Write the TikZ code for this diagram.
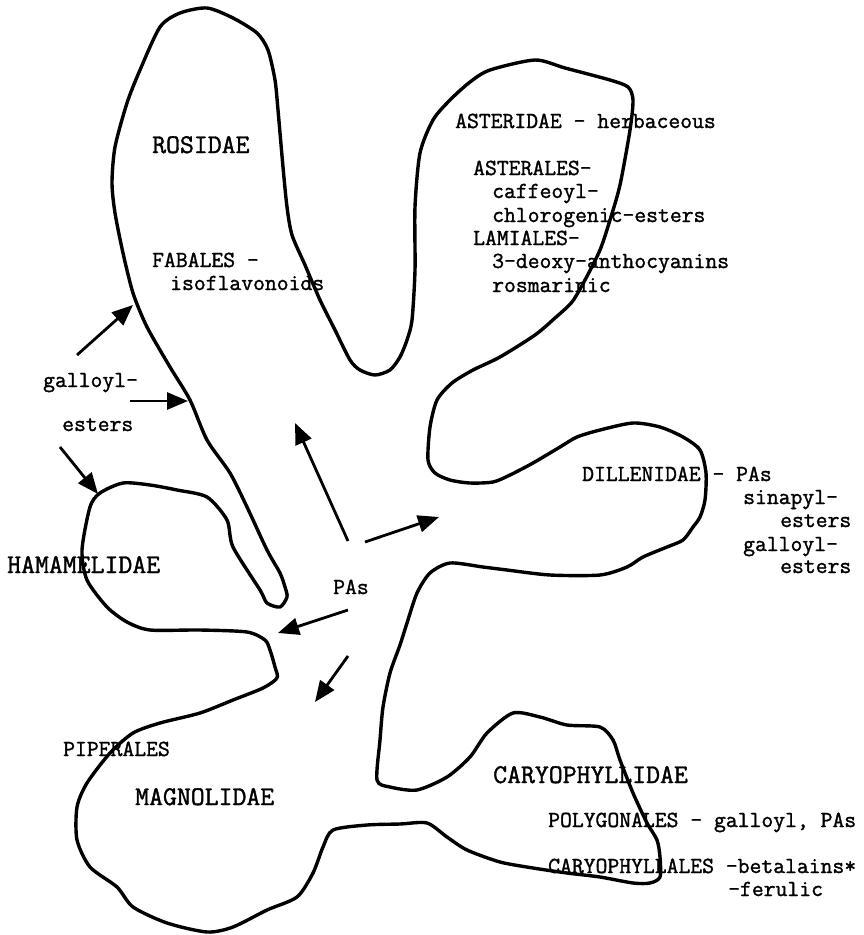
\documentclass[tikz,border=0pt]{standalone}
\usepackage{fontspec}
\newfontfamily\tw{lmmono12-regular.otf}[FakeBold=1.4]
\usetikzlibrary{arrows.meta}

\begin{document}
\begin{tikzpicture}[x=1pt, y=-1pt, >={Triangle[length=21pt,width=17pt]},
    lbl/.style={anchor=base west,inner sep=0pt,font=\fontsize{23}{23}\selectfont\tw},
    big/.style={anchor=base west,inner sep=0pt,font=\fontsize{27}{27}\selectfont\tw},
    arr/.style={draw=black,line width=2.8pt,->},
    blob/.style={draw=black,line width=3.4pt,line join=round}]
    \useasboundingbox (0,0) rectangle (864,935);
    % outline of the subclasses
    \draw[blob] plot[smooth cycle,tension=0.45] coordinates {
      (207,8) (233,18) (257,33) (268,50) (275,80) (278,110) (283,167) (287,207) (292,235) (305,265)
      (320,300) (335,330) (350,360) (360,370) (375,375) (390,370) (400,357) (407,340) (412,320) (415,270)
      (415,207) (420,153) (433,120) (450,100) (470,82) (490,70) (535,60) (565,68) (610,80) (628,87)
      (633,100) (630,130) (620,185) (610,220) (600,250) (585,280) (572,302) (555,318) (535,335) (500,357)
      (473,370) (452,383) (437,400) (430,427) (428,460) (435,473) (450,480) (470,483) (493,482) (510,475)
      (533,463) (560,447) (577,437) (600,430) (633,423) (660,427) (683,437) (700,450) (706,473) (705,500)
      (700,517) (693,527) (683,540) (667,547) (643,557) (627,567) (600,575) (550,575) (507,570) (483,567)
      (450,563) (430,573) (417,593) (407,623) (400,645) (390,673) (383,707) (380,740) (377,780) (390,787)
      (417,790) (447,777) (470,757) (487,733) (513,713) (540,717) (567,725) (600,727) (613,740) (620,760)
      (633,793) (647,823) (657,840) (660,857) (660,877) (650,883) (633,883) (600,877) (567,873) (533,868)
      (500,862) (467,850) (447,837) (427,823) (400,824) (367,825) (333,830) (323,847) (313,873) (297,897)
      (267,910) (233,927) (207,932) (167,923) (133,907) (117,887) (90,867) (77,840) (77,807) (87,783)
      (110,753) (133,733) (160,723) (200,713) (233,700) (263,688) (277,678) (275,667) (270,650) (265,640)
      (247,632) (200,630) (150,630) (127,622) (107,607) (87,580) (82,550) (90,507) (100,493) (123,483)
      (150,485) (177,490) (207,497) (227,520) (233,547) (260,590) (267,603) (280,607) (287,597) (285,587)
      (280,573) (267,550) (247,507) (230,473) (207,440) (190,400) (170,367) (147,327) (133,293) (123,253)
      (115,213) (112,183) (115,147) (127,103) (140,70) (160,27) (180,13)};

    % Rosidae
    \node[big] (ros) at (152,153) {ROSIDAE};
    \node[lbl] (fab) at (152,267) {FABALES -};
    \node[lbl] (iso) at (170,290) {isoflavonoids};
    % Asteridae
    \node[lbl] (ast) at (455,128) {ASTERIDAE - herbaceous};
    \node[lbl] (astl) at (473,175) {ASTERALES-};
    \node[lbl] (caf) at (492,198) {caffeoyl-};
    \node[lbl] (chl) at (492,222) {chlorogenic-esters};
    \node[lbl] (lam) at (473,245) {LAMIALES-};
    \node[lbl] (deo) at (492,268) {3-deoxy-anthocyanins};
    \node[lbl] (ros2) at (492,292) {rosmarinic};
    % Dillenidae
    \node[lbl] (dil) at (582,481) {DILLENIDAE - PAs};
    \node[lbl] (sin) at (743,504) {sinapyl-};
    \node[lbl] (sin2) at (780,527) {esters};
    \node[lbl] (gal) at (743,551) {galloyl-};
    \node[lbl] (gal2) at (780,573) {esters};
    % left side
    \node[lbl] (gl) at (43,387) {galloyl-};
    \node[lbl] (es) at (62,431) {esters};
    \node[big] (ham) at (7,573) {HAMAMELIDAE};
    \node[lbl] (pas) at (333,594) {PAs};
    \node[lbl] (pip) at (63,756) {PIPERALES};
    \node[big] (mag) at (135,805) {MAGNOLIDAE};
    % Caryophyllidae
    \node[big] (car) at (493,783) {CARYOPHYLLIDAE};
    \node[lbl] (pol) at (548,827) {POLYGONALES - galloyl, PAs};
    \node[lbl] (cars) at (548,873) {CARYOPHYLLALES -betalains*};
    \node[lbl] (fer) at (728,896) {-ferulic};

    % arrow ends
    \coordinate (g1) at (77,355);  \coordinate (g1e) at (133,305);
    \coordinate (g2) at (130,401); \coordinate (g2e) at (188,401);
    \coordinate (g3) at (60,447);  \coordinate (g3e) at (98,494);
    \coordinate (p1) at (348,541); \coordinate (p1e) at (295,423);
    \coordinate (p2) at (365,542); \coordinate (p2e) at (439,517);
    \coordinate (p3) at (348,610); \coordinate (p3e) at (278,633);
    \coordinate (p4) at (348,656); \coordinate (p4e) at (315,702);
    \path[arr] (g1)--(g1e); \path[arr] (g2)--(g2e); \path[arr] (g3)--(g3e);
    \path[arr] (p1)--(p1e); \path[arr] (p2)--(p2e); \path[arr] (p3)--(p3e); \path[arr] (p4)--(p4e);
\end{tikzpicture}
\end{document}
